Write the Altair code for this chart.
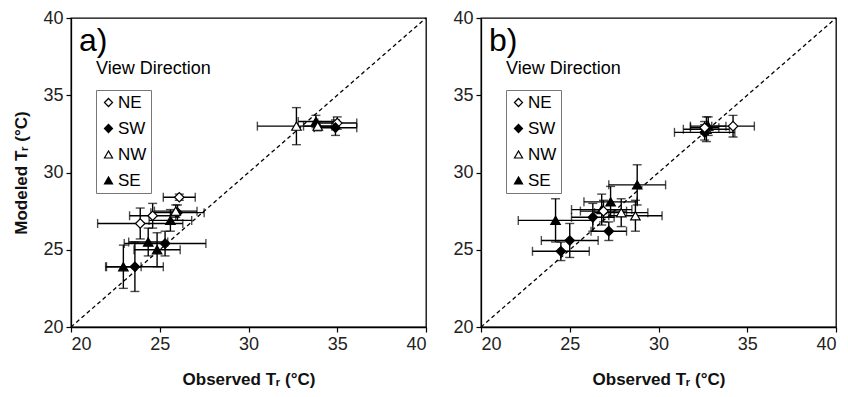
import altair as alt
import pandas as pd

# ---------------- data ----------------
dirs = ["NE", "SW", "NW", "SE"]

# panel a
a_dir  = ["NE", "NE", "NE", "SW", "SW", "SW", "NW", "SE", "SE", "SE", "SE",
          "NW", "SE", "NE", "SW", "NW"]
a_x    = [26.1, 24.6, 23.9, 23.6, 25.3, 26.0, 25.9, 22.95, 24.85, 24.35, 25.6,
          32.7, 33.8, 35.0, 34.9, 33.9]
a_y    = [28.4, 27.2, 26.7, 23.9, 25.4, 27.4, 27.5, 23.9, 25.0, 25.5, 26.9,
          33.0, 33.3, 33.2, 32.9, 33.0]
a_xerr = [0.9, 1.3, 2.4, 1.6, 2.3, 1.5, 1.2, 1.0, 1.3, 1.1, 1.2,
          2.2, 1.0, 1.1, 1.2, 0.8]
a_yerr = [0.2, 0.8, 1.0, 1.6, 0.8, 0.5, 0.4, 1.4, 1.1, 0.9, 0.7,
          1.2, 0.4, 0.4, 0.5, 0.3]

# panel b
b_dir  = ["SE", "SW", "SW", "SW", "SE", "SE", "SW", "SE", "NW", "NW", "NE",
          "NE", "NW", "SW", "SE", "NE"]
b_x    = [24.2, 25.0, 24.5, 26.3, 26.8, 27.3, 27.2, 28.8, 27.9, 28.7, 26.9,
          34.2, 32.7, 32.6, 32.8, 32.6]
b_y    = [26.9, 25.6, 24.9, 27.1, 27.6, 28.1, 26.2, 29.2, 27.4, 27.2, 27.5,
          33.0, 32.8, 32.6, 33.0, 32.9]
b_xerr = [2.1, 1.6, 1.6, 1.2, 1.7, 1.5, 1.0, 1.6, 1.5, 1.5, 1.3,
          1.2, 1.3, 1.7, 1.0, 0.8]
b_yerr = [1.4, 1.1, 0.6, 0.9, 1.0, 1.0, 0.6, 1.3, 0.9, 1.0, 0.7,
          0.7, 0.8, 0.5, 0.6, 0.4]

diag = [20, 40]
ticks = [20, 25, 30, 35, 40]

FONT = "Liberation Sans"


def frame(d, x, y, xe, ye):
    df = pd.DataFrame({"dir": d, "x": x, "y": y, "xe": xe, "ye": ye})
    df["xlo"] = df.x - df.xe
    df["xhi"] = df.x + df.xe
    df["ylo"] = df.y - df.ye
    df["yhi"] = df.y + df.ye
    return df


def panel(df, letter, ytitle):
    xs = alt.Scale(domain=[20, 40], nice=False)
    ys = alt.Scale(domain=[20, 40], nice=False)
    xax = alt.Axis(values=ticks, title="Observed Tᵣ (°C)", grid=False, titlePadding=18)
    yax = alt.Axis(values=ticks, title=ytitle, grid=False)
    base = alt.Chart(df)

    line = alt.Chart(pd.DataFrame({"v": diag})).mark_line(
        color="black", strokeDash=[4, 3], strokeWidth=1.3
    ).encode(x=alt.X("v:Q", scale=xs, axis=xax), y=alt.Y("v:Q", scale=ys, axis=yax))

    hbar = base.mark_rule(color="black", strokeWidth=1.4).encode(
        x=alt.X("xlo:Q", scale=xs), x2="xhi:Q", y=alt.Y("y:Q", scale=ys))
    vbar = base.mark_rule(color="black", strokeWidth=1.4).encode(
        x=alt.X("x:Q", scale=xs), y=alt.Y("ylo:Q", scale=ys), y2="yhi:Q")
    cap_l = base.mark_tick(orient="vertical", color="black", size=9, thickness=1.4).encode(
        x=alt.X("xlo:Q", scale=xs), y=alt.Y("y:Q", scale=ys))
    cap_r = base.mark_tick(orient="vertical", color="black", size=9, thickness=1.4).encode(
        x=alt.X("xhi:Q", scale=xs), y=alt.Y("y:Q", scale=ys))
    cap_b = base.mark_tick(orient="horizontal", color="black", size=9, thickness=1.4).encode(
        x=alt.X("x:Q", scale=xs), y=alt.Y("ylo:Q", scale=ys))
    cap_t = base.mark_tick(orient="horizontal", color="black", size=9, thickness=1.4).encode(
        x=alt.X("x:Q", scale=xs), y=alt.Y("yhi:Q", scale=ys))

    leg = alt.Legend(
        title=None, orient="none", legendX=25, legendY=72,
        strokeColor="#777", padding=4, labelFont=FONT, labelFontSize=17,
        labelColor="black", symbolStrokeWidth=1.2,
        symbolSize=65, rowPadding=8, labelOffset=1,
    )
    pts = base.mark_point(filled=True, size=90, strokeWidth=1.2,
                          opacity=1).encode(
        x=alt.X("x:Q", scale=xs),
        y=alt.Y("y:Q", scale=ys),
        shape=alt.Shape("dir:N", scale=alt.Scale(
            domain=dirs, range=["diamond", "diamond", "triangle-up", "triangle-up"]),
            legend=leg),
        fill=alt.Fill("dir:N", scale=alt.Scale(
            domain=dirs, range=["white", "black", "white", "black"]),
            legend=leg),
        stroke=alt.Stroke("dir:N", scale=alt.Scale(
            domain=dirs, range=["black", "black", "black", "black"]),
            legend=leg),
    )

    lab = alt.Chart(pd.DataFrame({"t": [letter]})).mark_text(
        font=FONT, fontSize=32, align="left", baseline="middle", color="black"
    ).encode(x=alt.value(8), y=alt.value(23), text="t:N")
    vd = alt.Chart(pd.DataFrame({"t": ["View Direction"]})).mark_text(
        font=FONT, fontSize=18, align="left", baseline="middle", color="black"
    ).encode(x=alt.value(25), y=alt.value(51), text="t:N")

    return alt.layer(line, hbar, vbar, cap_l, cap_r, cap_b, cap_t, pts, lab, vd).properties(
        width=355, height=309
    ).resolve_scale(shape="independent", fill="independent", stroke="independent")


da = frame(a_dir, a_x, a_y, a_xerr, a_yerr)
db = frame(b_dir, b_x, b_y, b_xerr, b_yerr)

chart = alt.hconcat(
    panel(da, "a)", "Modeled Tᵣ (°C)"),
    panel(db, "b)", None),
    spacing=22,
).resolve_scale(shape="independent", fill="independent", stroke="independent").resolve_legend(
    shape="independent", fill="independent", stroke="independent"
).configure_view(stroke="black", strokeWidth=1.3).configure_axis(
    labelFont=FONT, labelFontSize=18, labelColor="#222", titleFont=FONT,
    titleFontSize=17, titleFontWeight="bold", titleColor="#111",
    domainColor="black", tickColor="black", tickSize=5, domainWidth=1.3,
    tickWidth=1.2, labelPadding=3, titlePadding=12,
).properties(padding={"left": 12, "top": 8, "right": 5, "bottom": 5})

chart.save("out.html", embed_options={"renderer": "svg", "actions": False})
